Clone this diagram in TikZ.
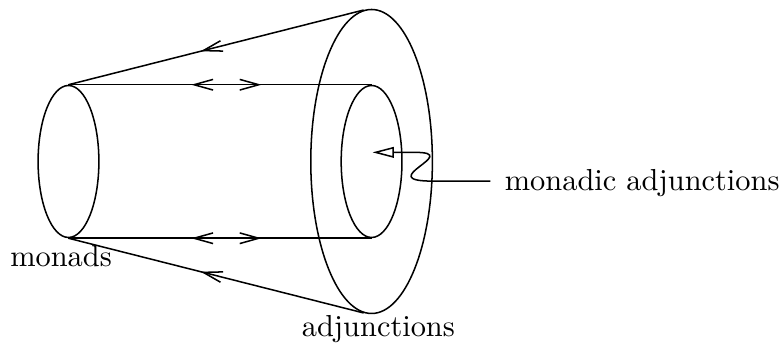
\documentclass[tikz,border=0pt]{standalone}
\usepackage{tikz}
\usetikzlibrary{shapes.geometric, arrows.meta, decorations.markings}

\begin{document}
\begin{tikzpicture}[
  x=1pt, y=1pt, line width=0.5pt,
  >={Straight Barb[length=6.25pt, width=3.5pt]},
  disc/.style={ellipse, draw, inner sep=0pt, minimum width=20pt, minimum height=50pt},
  leftbarb/.style={postaction={decorate, decoration={markings,
      mark=at position #1 with {\arrowreversed{>}}}}},
  rightbarb/.style={postaction={decorate, decoration={markings,
      mark=at position #1 with {\arrow{>}}}}},
  textlabel/.style={anchor=base west, inner sep=0pt},
]
  \useasboundingbox (-22.53,-61.68) rectangle (235.36,53.12);

  \node[disc] (monad) at (0,0) {};
  \node[disc] (inner) at (99.7,0) {};
  \node[disc, minimum width=40pt, minimum height=100pt] (outer) at (99.7,0) {};

  \node[textlabel] (monads) at (-19.4,-34.6) {monads};
  \node[textlabel] (adj) at (76.5,-57.6) {adjunctions};
  \node[textlabel, inner xsep=4.5pt] (madj) at (138.8,-9.6) {monadic adjunctions};
  \coordinate (inside) at (100,3);

  % cylinder and cone
  \draw[leftbarb=0.405, rightbarb=0.637] (monad.north) -- (inner.north);
  \draw[leftbarb=0.405, rightbarb=0.637] (monad.south) -- (inner.south);
  \draw[leftbarb=0.448] (monad.north) -- (outer.93);
  \draw[leftbarb=0.448] (monad.south) -- (outer.267);

  % pointer to the inner disc
  \draw[-{Triangle[open, length=7pt, width=3.5pt]}] ([yshift=0.7pt]madj.west) -- ++(-19,0)
    .. controls +(-20,0) and +(16,0) .. (114,3) -- (inside);
\end{tikzpicture}
\end{document}
